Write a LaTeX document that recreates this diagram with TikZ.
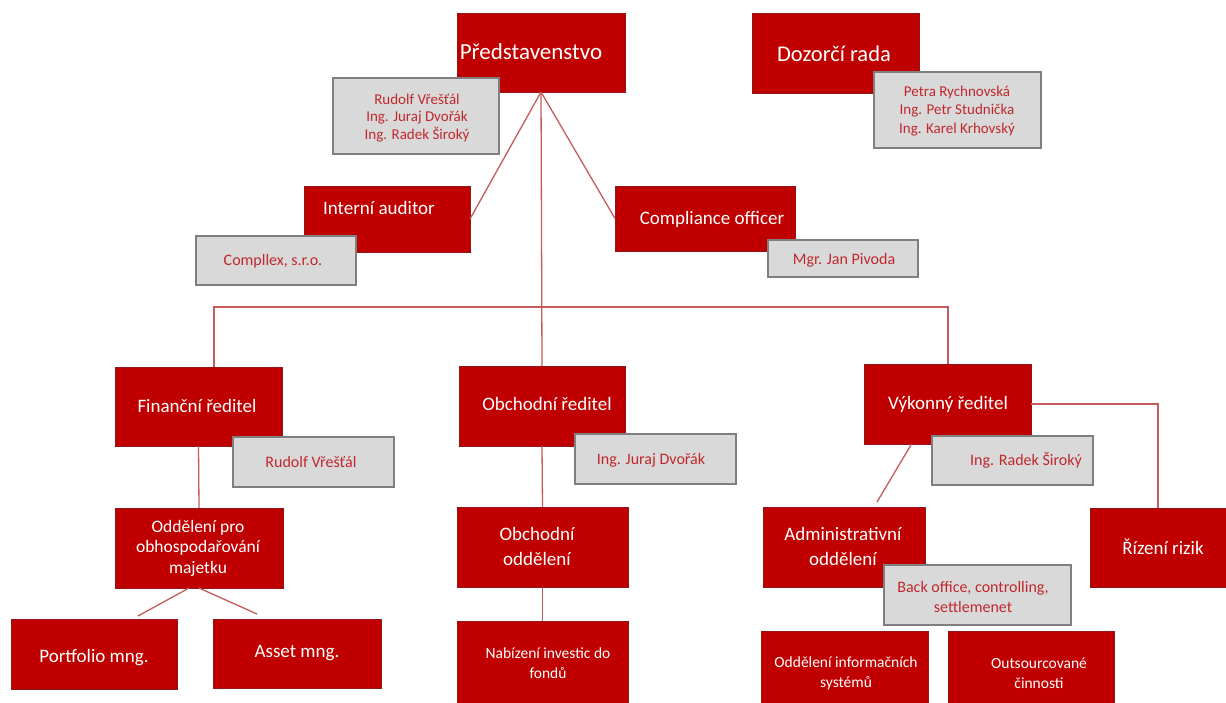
\documentclass[tikz,border=0pt]{standalone}
\usepackage{fontspec}
\setmainfont{Carlito}
\definecolor{boxred}{HTML}{C00000}
\definecolor{boxedge}{HTML}{8E1818}
\definecolor{linkred}{HTML}{C55A5A}
\definecolor{namefill}{HTML}{D9D9D9}
\definecolor{nameedge}{HTML}{7F7F7F}
\definecolor{nametext}{HTML}{C0282D}
\tikzset{
  redbox/.style={fill=boxred, draw=boxedge, line width=0.8pt, inner sep=0pt, outer sep=0pt},
  graybox/.style={fill=namefill, draw=nameedge, line width=1.2pt, inner sep=0pt, outer sep=0pt},
  redboxtext/.style={text=white, align=center, inner sep=0pt},
  grayboxtext/.style={text=nametext, align=center, inner sep=0pt},
  link/.style={draw=linkred, line width=1.3pt},
}
\newcommand\mkbox[9]{%
  \node[#1, anchor=north west, minimum width={#5-#3}, minimum height={#6-#4}] (#2) at (#3,#4) {};
  \node[#1text, font=\fontsize#8\selectfont] (#2t) at (#7) {#9};}
\begin{document}
\begin{tikzpicture}[x=1pt,y=-1pt]
\useasboundingbox (0,0) rectangle (1226,702);
% red boxes
\mkbox{redbox}{pred}{457}{13}{625}{92}{531,52}{{23}{27}}{Představenstvo}
\mkbox{redbox}{dozor}{752}{13}{919}{93}{834,54}{{22.5}{27}}{Dozorčí rada}
\mkbox{redbox}{ia}{304}{186}{470}{252}{379,208}{{19}{23}}{Interní auditor}
\mkbox{redbox}{co}{615}{186}{795}{251}{712,219}{{19}{23}}{Compliance officer}
\mkbox{redbox}{fr}{115}{367}{282}{446}{197,406}{{19}{23}}{Finanční ředitel}
\mkbox{redbox}{or}{459}{366}{625}{446}{547,404}{{19}{23}}{Obchodní ředitel}
\mkbox{redbox}{vr}{864}{364}{1031}{444}{948,404}{{19}{23}}{Výkonný ředitel}
\mkbox{redbox}{op}{115}{508}{283}{588}{198,548}{{17.5}{20.5}}{Oddělení pro\\obhospodařování\\majetku}
\mkbox{redbox}{pm}{11}{619}{177}{689}{94,658}{{19}{23}}{Portfolio mng.}
\mkbox{redbox}{am}{213}{619}{381}{688}{297,653}{{19}{23}}{Asset mng.}
\mkbox{redbox}{oo}{457}{507}{628}{587}{537,546}{{19}{25}}{Obchodní\\oddělení}
\mkbox{redbox}{nb}{457}{621}{628}{703}{548,663}{{15.5}{20}}{Nabízení investic do\\fondů}
\mkbox{redbox}{ad}{763}{507}{925}{587}{843,546}{{19}{25}}{Administrativní\\oddělení}
\mkbox{redbox}{rr}{1090}{508}{1226}{587}{1163,547}{{19}{23}}{Řízení rizik}
\mkbox{redbox}{oi}{761}{631}{928}{703}{846,673}{{15.5}{20}}{Oddělení informačních\\systémů}
\mkbox{redbox}{ou}{948}{631}{1114}{703}{1039,673}{{15.5}{20}}{Outsourcované\\činnosti}
% connectors
\coordinate (busL) at (214,307);
\coordinate (busR) at (948,307);
\coordinate (pmtop) at (138,616);
\coordinate (amtop) at (257,614);
\coordinate (vrd) at (877,502);
\draw[link] (pred.south) -- (ia.east);
\draw[link] (pred.south) -- (co.west);
\draw[link] (pred.south) -- (or.north);
\draw[link] (fr.north -| busL) -- (busL) -- (busR) -- (vr.north -| busR);
\draw[link] (fr.south) -- (op.north);
\draw[link] ([xshift=-10pt]op.south) -- (pmtop);
\draw[link] (op.south) -- (amtop);
\draw[link] (or.south) -- (oo.north);
\draw[link] (oo.south) -- (nb.north);
\draw[link] (vr.east) -| (rr.north);
\draw[link] ([xshift=-36pt]vr.south) -- (vrd);
% gray name boxes
\mkbox{graybox}{gpred}{333}{78}{499}{154}{417,118}{{15}{17.5}}{Rudolf Vřešťál\\Ing. Juraj Dvořák\\Ing. Radek Široký}
\mkbox{graybox}{gdozor}{874}{72}{1041}{148}{957,111}{{15}{18.5}}{Petra Rychnovská\\Ing. Petr Studnička\\Ing. Karel Krhovský}
\mkbox{graybox}{gia}{196}{236}{356}{285}{273,261}{{16}{19}}{Compllex, s.r.o.}
\mkbox{graybox}{gco}{768}{240}{918}{277}{844,260}{{16}{19}}{Mgr. Jan Pivoda}
\mkbox{graybox}{gfr}{233}{437}{394}{487}{311,462}{{16}{19}}{Rudolf Vřešťál}
\mkbox{graybox}{gor}{575}{434}{736}{484}{651,460}{{16}{19}}{Ing. Juraj Dvořák}
\mkbox{graybox}{gvr}{932}{436}{1093}{485}{1026,460}{{16}{19}}{Ing. Radek Široký}
\mkbox{graybox}{gad}{884}{565}{1071}{625}{973,597}{{16}{20}}{Back office, controlling,\\settlemenet}
\end{tikzpicture}
\end{document}
